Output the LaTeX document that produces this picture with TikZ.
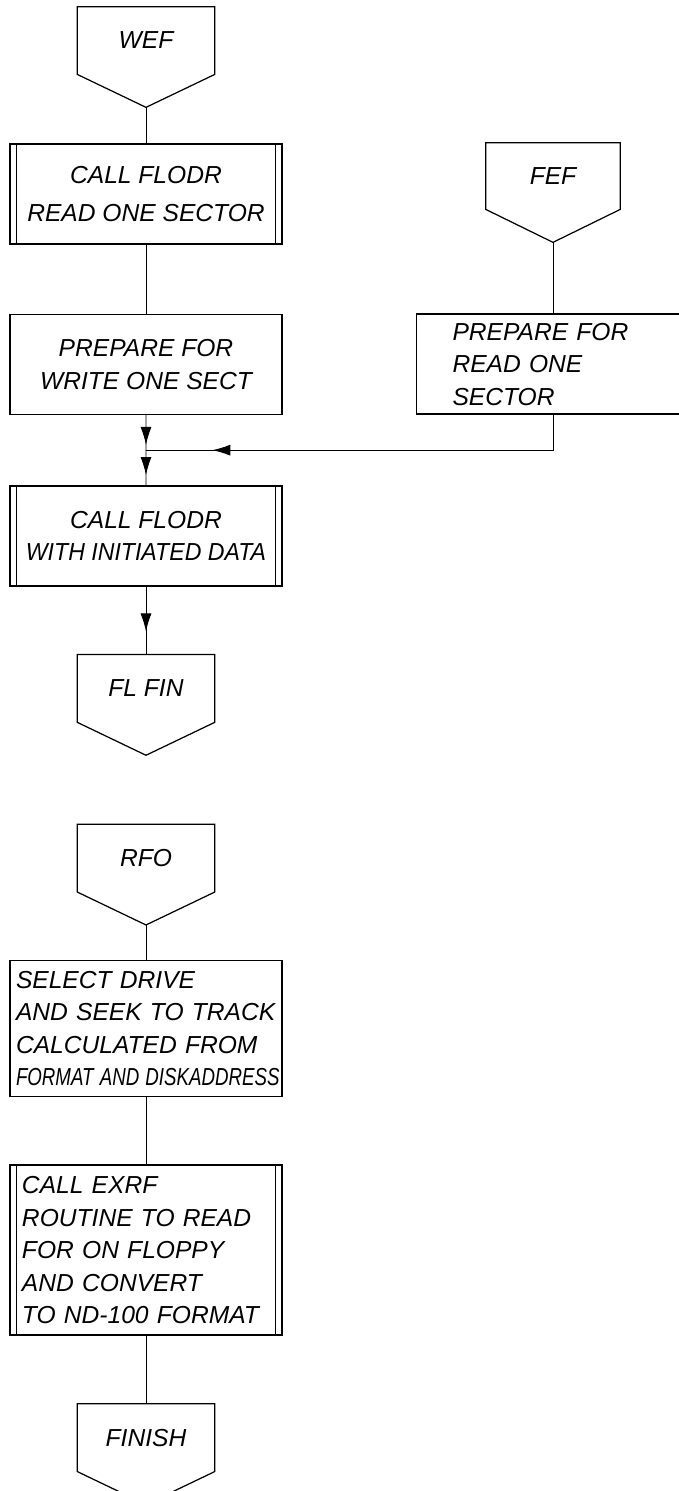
\documentclass[tikz,border=0pt]{standalone}
\usepackage{fontspec}
\setmainfont{Liberation Sans}
\usepackage{graphicx}
\usetikzlibrary{arrows.meta,positioning,calc,decorations.markings}

\begin{document}
\begin{tikzpicture}[
    font=\fontsize{14}{18.5}\selectfont\itshape,
    box/.style={draw=black, line width=0.8pt, minimum width=5.44cm,
                minimum height=2cm, inner xsep=5pt},
    sub/.style={box, align=center},
    proc/.style={box, align=center},
    note/.style={box, align=left, text width=5.2cm, inner xsep=0.12cm},
    offp/.style={minimum width=2.74cm, minimum height=1.34cm, inner sep=0pt},
    ln/.style={line width=0.5pt},
    mid/.style={ln, postaction={decorate},
                decoration={markings, mark=at position #1 with
                  {\arrow{Latex[length=3.6mm,width=2.2mm]}}}}
  ]
  \useasboundingbox (0,0) rectangle (13.58,-29.82);
  \clip (0,0) rectangle (13.58,-29.82);

  % write entry
  \node[offp] (wef) at (2.92,-0.81) {WEF};
  \node[sub, below=1.38cm of wef] (call1) {CALL FLODR\\[3pt]READ ONE SECTOR};
  \node[proc, below=1.38cm of call1] (prepW) {PREPARE FOR\\WRITE ONE SECT};
  \node[sub, below=1.40cm of prepW] (call2) {CALL FLODR\\\scalebox{0.94}[1]{WITH INITIATED DATA}};
  \node[offp, below=1.36cm of call2] (flfin) {FL FIN};

  % read entry
  \node[offp, minimum width=2.68cm, minimum height=1.32cm] (fef) at (11.06,-3.52) {FEF};
  \node[box, align=left, text width=4.02cm, inner xsep=0.72cm, minimum width=5.46cm,
        below=2.08cm of fef] (prepR) {PREPARE FOR\\READ ONE\\SECTOR};

  % format read
  \node[offp, below=2.04cm of flfin] (rfo) {RFO};
  \node[note, minimum height=2.72cm, below=1.36cm of rfo] (select)
    {SELECT DRIVE\\AND SEEK TO TRACK\\CALCULATED FROM\\\scalebox{0.76}[1]{FORMAT AND DISKADDRESS}};
  \node[note, text width=4.96cm, inner xsep=0.24cm, minimum height=3.4cm,
        below=1.34cm of select] (exrf)
    {CALL EXRF\\ROUTINE TO READ\\FOR ON FLOPPY\\AND CONVERT\\TO ND-100 FORMAT};
  \node[offp, below=1.36cm of exrf] (finish) {FINISH};

  % connector outlines
  \foreach \n in {wef,fef,flfin,rfo,finish}{
    \coordinate (\n-tip) at ($(\n.south)+(0,-0.66)$);
    \draw[line width=0.7pt] (\n.south west) -- (\n.north west) -- (\n.north east)
      -- (\n.south east) -- (\n-tip) -- cycle;
  }

  % subroutine bars
  \foreach \n in {call1,call2,exrf}
    \draw[line width=0.8pt] ([xshift=0.14cm]\n.north west) -- ([xshift=0.14cm]\n.south west)
      ([xshift=-0.14cm]\n.north east) -- ([xshift=-0.14cm]\n.south east);

  \coordinate (jn) at ($(prepW.south)!0.5!(call2.north)$);

  \draw[ln] (wef-tip) -- (call1);
  \draw[ln] (call1) -- (prepW);
  \draw[ln] (fef-tip) -- (prepR);
  \draw[mid=0.85] (prepW) -- (jn);
  \draw[mid=0.85] (prepR.south) |- (jn);
  \draw[mid=0.71] (jn) -- (call2);
  \draw[mid=0.66] (call2) -- (flfin);
  \draw[ln] (rfo-tip) -- (select);
  \draw[ln] (select) -- (exrf);
  \draw[ln] (exrf) -- (finish);
\end{tikzpicture}
\end{document}
